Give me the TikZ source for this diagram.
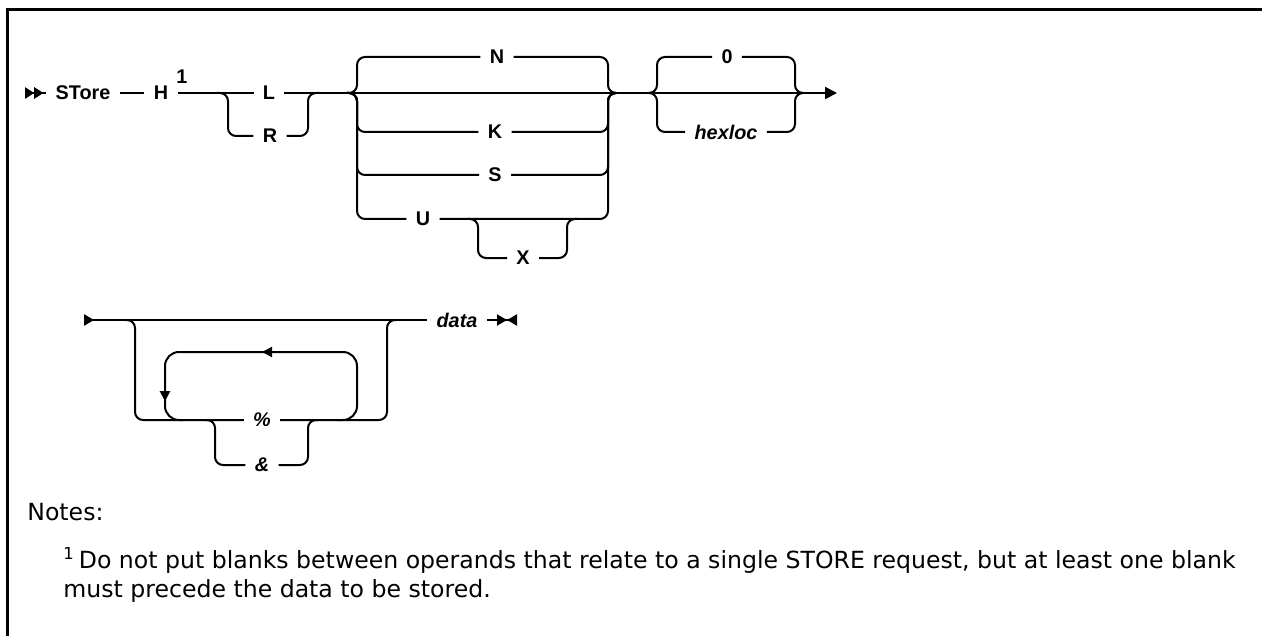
\documentclass[tikz,border=0pt]{standalone}
\usepackage{fontspec}
\usepackage{tikz}
\usetikzlibrary{arrows.meta,positioning,calc,decorations.markings}
\newfontfamily\railfont{Liberation Sans}
\newfontfamily\notefont{DejaVu Sans}
\tikzset{rail/.style={line width=1pt, rounded corners=4pt}, railloop/.style={line width=1pt, rounded corners=7pt}, kw/.style={font=\railfont\bfseries\fontsize{9.9}{11}\selectfont, inner xsep=4.5pt, inner ysep=0pt}, var/.style={kw, font=\railfont\bfseries\itshape\fontsize{9.9}{11}\selectfont}, note/.style={font=\notefont\fontsize{11.8}{14}\selectfont, anchor=base west, inner sep=0pt}, frame/.style={line width=1.5pt}}

\begin{document}
\begin{tikzpicture}[x=0.5pt,y=-0.5pt]
\useasboundingbox (0,0) rectangle (1262,636);
\draw[frame] (7,636) -- (7,10) -- (1262,10);
% first line
\coordinate (st1) at (25,93);
\node[kw] (store) at (83,93) {STore};
\node[kw] (h) at (161,93) {H};
\node[kw,inner xsep=0pt] (fn) at (182,77) {1};
\node[kw] (l) at (269,93) {L};
\node[kw] (r) at (270,136) {R};
\coordinate (lrS) at (218,93); \coordinate (lrB) at (228,136); \coordinate (lrC) at (308,93); \coordinate (lrE) at (318,93);
\draw[rail,{[sep=0pt]Triangle[reversed,length=4.6pt,width=5.6pt]Triangle[reversed,length=4.6pt,width=5.6pt]}-] (st1) -- (store);
\draw[rail] (store) -- (h); \draw[rail] (h) -- (l); \draw[rail] (lrS) -| (lrB) -- (r); \draw[rail] (r.east) -| (lrC) -- (lrE);
\node[kw] (n) at (497,57) {N};
\node[kw] (k) at (495,132) {K};
\node[kw] (s) at (495,175) {S};
\node[kw] (u) at (423,219) {U};
\node[kw] (x) at (523,258) {X};
\coordinate (nS) at (347,93); \coordinate (nR) at (608,93); \coordinate (nE) at (615,93);
\coordinate (nLn) at (357,57); \coordinate (nLk) at (357,132); \coordinate (nLs) at (357,175); \coordinate (nLu) at (357,219);
\draw[rail] (l) -- (nS) -- (nE);
\draw[rail] (nS) -| (nLn) -- (n); \draw[rail] (nS) -| (nLk) -- (k); \draw[rail] (nS) -| (nLs) -- (s); \draw[rail] (nS) -| (nLu) -- (u);
\draw[rail] (n.east) -| (nR) -- (nE); \draw[rail] (k.east) -| (nR) -- (nE); \draw[rail] (s.east) -| (nR) -- (nE); \draw[rail] (u.east) -| (nR) -- (nE);
\coordinate (xS) at (468,219); \coordinate (xL) at (478,258); \coordinate (xR) at (567,219); \coordinate (xE) at (577,219);
\draw[rail] (xS) -| (xL) -- (x); \draw[rail] (x.east) -| (xR) -- (xE);
\node[kw] (zero) at (727,57) {0};
\node[var] (hex) at (726,132) {hexloc};
\coordinate (zS) at (652,93); \coordinate (zLa) at (657,57); \coordinate (zLb) at (657,132); \coordinate (zR) at (795,93); \coordinate (zE) at (802,93); \coordinate (en1) at (837,93);
\draw[rail] (nE) -- (zS); \draw[rail,-{Triangle[length=6pt,width=6pt]}] (zS) -- (en1);
\draw[rail] (zS) -| (zLa) -- (zero); \draw[rail] (zS) -| (zLb) -- (hex);
\draw[rail] (zero.east) -| (zR) -- (zE); \draw[rail] (hex.east) -| (zR) -- (zE);
% second line
\coordinate (st2) at (84,320);
\node[var] (data) at (457,320) {data};
\node[var] (pct) at (262,420) {\%};
\node[var] (amp) at (262,465) {\&};
\coordinate (en2) at (517,320);
\coordinate (lpS) at (125,320); \coordinate (lpL) at (135,420); \coordinate (lpRt) at (387,320); \coordinate (lpE) at (397,320);
\coordinate (aS) at (205,420); \coordinate (aL) at (215,465); \coordinate (aR) at (308,420); \coordinate (aE) at (318,420);
\draw[rail,{Triangle[reversed,length=5pt,width=5.6pt]}-] (st2) -- (data);
\draw[rail,-{[sep=0pt]Triangle[length=5pt,width=5.5pt]Triangle[reversed,length=5pt,width=5.5pt]}] (data) -- (en2);
\draw[rail] (lpS) -| (lpL) -- (pct); \draw[rail] (pct.east) -| (lpRt) -- (lpE);
\draw[rail] (aS) -| (aL) -- (amp); \draw[rail] (amp.east) -| (aR) -- (aE);
\coordinate (rpA) at (337,420); \coordinate (rpB) at (357,352); \coordinate (rpC) at (165,420); \coordinate (rpD) at (183,420);
\draw[railloop,postaction={decorate},decoration={markings,mark=at position 0.5 with {\arrow{Triangle[length=5pt,width=5pt]}},mark=at position 0.91 with {\arrow{Triangle[length=5pt,width=5pt]}}}] (rpA) -| (rpB) -| (rpC) -- (rpD);
% notes
\node[note] (notes) at (27,520) {Notes:};
\node[note] (fn1) at (63,568) {\textsuperscript{1}\,Do not put blanks between operands that relate to a single STORE request, but at least one blank};
\node[note] (fn1b) at (63,597) {must precede the data to be stored.};
\end{tikzpicture}
\end{document}
